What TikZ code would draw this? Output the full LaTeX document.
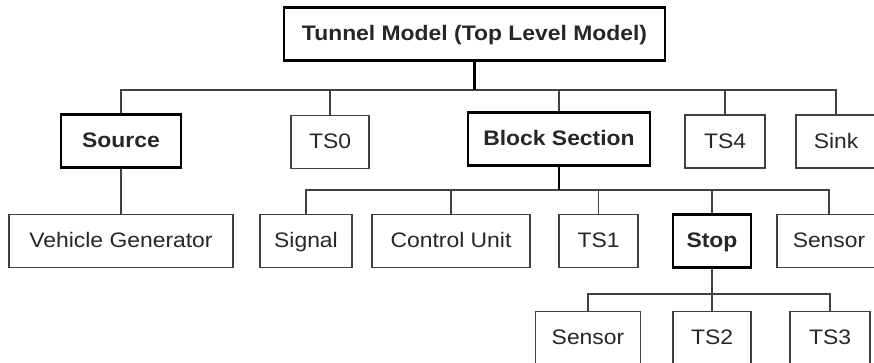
\documentclass[tikz,border=0pt]{standalone}
\usepackage{fontspec}
\setmainfont{Liberation Sans}[FakeStretch=1.09]
\definecolor{linegray}{HTML}{404040}
\definecolor{textgray}{HTML}{262626}

\begin{document}
\begin{tikzpicture}[x=1pt,y=-1pt,
box/.style = {draw=linegray, line width=1.7pt, text=textgray, inner sep=0pt,
            minimum width=#1, minimum height=53pt,
            text height=16.5pt, text depth=3.5pt,
            font=\fontsize{21}{25}\selectfont},
box/.default = 80pt,
mainbox/.style = {box=#1, draw=black, line width=2.8pt,
            font=\fontsize{21}{25}\selectfont\bfseries},
mainbox/.default = 120pt,
link/.style = {draw=linegray, line width=1.7pt},
stem/.style = {draw=black, line width=2.8pt}  % thick line under a bold box
                ]
    \useasboundingbox (0,0) rectangle (874,362);
    \clip (0,0) rectangle (874,362);
    % top level
    \node[mainbox=381pt] (top) at (474.5,34) {Tunnel Model (Top Level Model)};
    % second level
    \node[mainbox=120pt] (src) at (121,141) {Source};
    \node[mainbox=182pt] (blk) at (559,139) {Block Section};
    \foreach \x/\y/\w/\n/\t in {330/142/78pt/ts0/TS0, 725/141.5/80pt/ts4/TS4, 836/141.5/80pt/sink/Sink}
        \node[box=\w] (\n) at (\x,\y) {\t};
    % third level
    \node[mainbox=78pt] (stop) at (712,241) {Stop};
    \foreach \x/\w/\n/\t in {121/224pt/vg/Vehicle Generator, 306/92pt/signal/Signal,
                            451/158pt/ctrl/Control Unit, 598.5/79pt/ts1/TS1, 829/104pt/sensA/Sensor}
        \node[box=\w] (\n) at (\x,241) {\t};
    % fourth level
    \foreach \x/\w/\n/\t in {588/105pt/sensB/Sensor, 712/78pt/ts2/TS2, 830/80pt/ts3/TS3}
        \node[box=\w] (\n) at (\x,338) {\t};
    % connectors
    \coordinate (busA) at (474.5,90);
    \coordinate (busB) at (559,190);
    \coordinate (busC) at (712,294);
    \foreach \n in {src,ts0,blk,ts4,sink}
        \draw[link] (busA) -| (\n.north);
    \foreach \n in {signal,ctrl,ts1,stop,sensA}
        \draw[link] (busB) -| (\n.north);
    \foreach \n in {sensB,ts2,ts3}
        \draw[link] (busC) -| (\n.north);
    \draw[link] (src.south) -- (vg.north);
    \draw[link] (stop.south) -- (busC);
    \draw[stem] (top.south) -- (busA);
    \draw[stem] (blk.south) -- (busB);
\end{tikzpicture}
\end{document}
